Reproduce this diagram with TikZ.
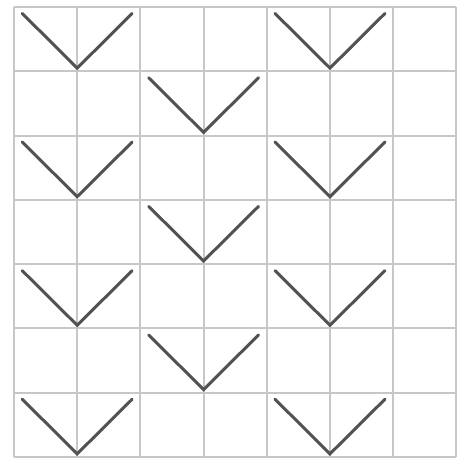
\documentclass[tikz,border=0pt]{standalone}
\usetikzlibrary{positioning}

\begin{document}
\begin{tikzpicture}[x=31.6pt,y=-32.15pt,
    gridline/.style={line width=1pt,black!22},
    vee/.style={line width=1.5pt,black!68,line cap=round,line join=miter}]
\useasboundingbox[fill=white] (-0.2215,-0.1089) rectangle (7.025,7.03);
\foreach \i in {0,...,7} {
  \draw[gridline] (\i,0)--(\i,7);
  \draw[gridline] (0,\i)--(7,\i);
}
\foreach \r in {0,2,4,6}
  \foreach \c in {0,4}
    \draw[vee] (\c+0.13,\r+0.1)--(\c+1,\r+0.95)--(\c+1.87,\r+0.1);
\foreach \r in {1,3,5}
    \draw[vee] (2.13,\r+0.1)--(3,\r+0.95)--(3.87,\r+0.1);
\end{tikzpicture}
\end{document}
